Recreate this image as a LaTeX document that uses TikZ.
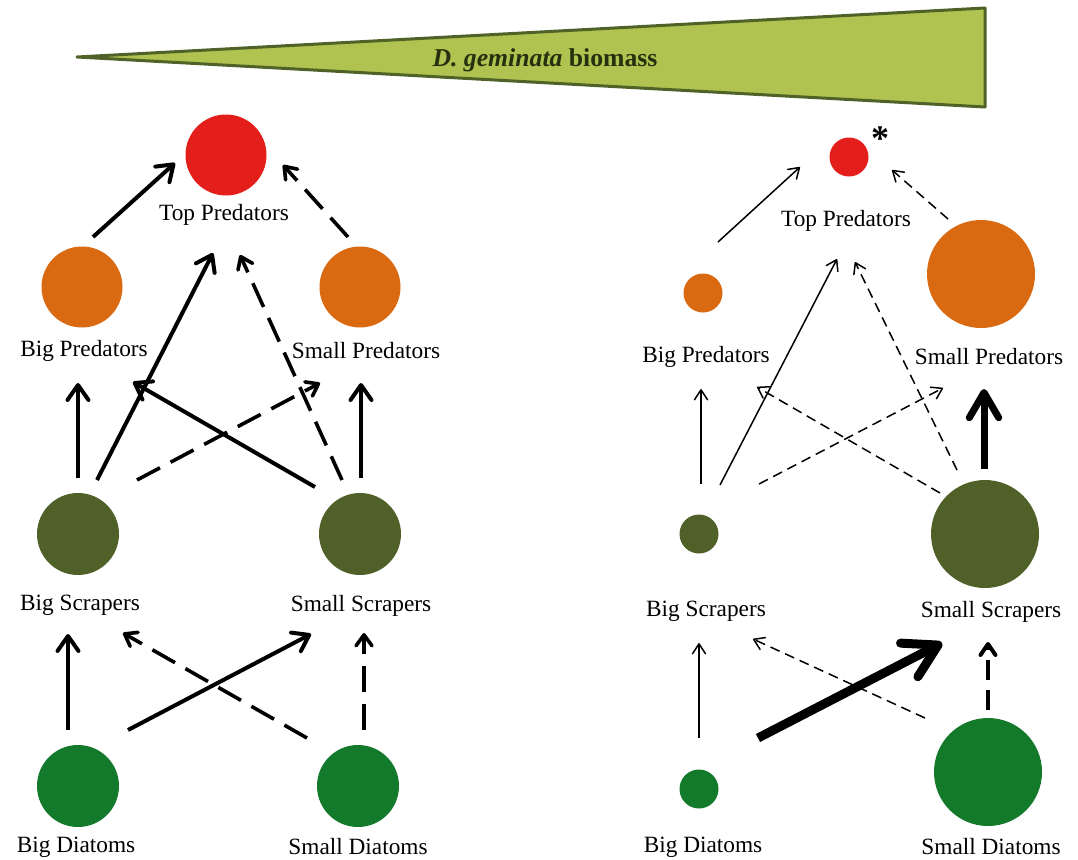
\documentclass[tikz,border=0pt]{standalone}
\usepackage{fontspec}
\setmainfont{Liberation Serif}
\usetikzlibrary{arrows.meta}
\definecolor{cred}{RGB}{228,30,26}
\definecolor{corange}{RGB}{217,106,18}
\definecolor{colive}{RGB}{79,97,40}
\definecolor{cgreen}{RGB}{18,122,42}
\definecolor{trifill}{RGB}{176,194,80}
\definecolor{triedge}{RGB}{79,98,40}
\definecolor{tritext}{RGB}{38,48,14}
\begin{document}
\begin{tikzpicture}[x=1pt,y=-1pt,
  dot/.style={circle,inner sep=0pt,minimum size=#1,draw=none},
  lab/.style={inner sep=0pt,font=\fontsize{23.3}{26}\selectfont},
  solidL/.style={line width=4pt,-{Straight Barb[length=15pt,width=21pt,round]}},
  dashL/.style={line width=3.6pt,dash pattern=on 26pt off 12pt,-{Straight Barb[length=11pt,width=16pt,round]}},
  thinR/.style={line width=1.5pt,-{Straight Barb[length=10pt,width=13pt,round]}},
  dashR/.style={thinR,dash pattern=on 10pt off 6pt},
  heavyR/.style={line width=#1,-{Straight Barb[length=3.6*#1,width=4.2*#1,round]}}
]
\useasboundingbox (0,0) rectangle (1078,859);

% biomass wedge
\path[fill=trifill,draw=triedge,line width=3pt,line join=round] (77,57) -- (985,8) -- (985,107) -- cycle;
\node[inner sep=0pt,text=tritext,font=\fontsize{25.7}{28}\selectfont\bfseries] (title) at (545,60) {\textit{D. geminata} biomass};

% ---------- left panel ----------
\node[dot=81pt,fill=cred]    (tpL) at (226,155) {};
\node[dot=81pt,fill=corange] (bpL) at (82,287) {};
\node[dot=81pt,fill=corange] (spL) at (360,287) {};
\node[dot=82pt,fill=colive]  (bsL) at (78,534) {};
\node[dot=82pt,fill=colive]  (ssL) at (360,534) {};
\node[dot=82pt,fill=cgreen]  (bdL) at (78,786) {};
\node[dot=82pt,fill=cgreen]  (sdL) at (358,786) {};

\node[lab] (tpLt) at (224,215) {Top Predators};
\node[lab] (bpLt) at (84,351) {Big Predators};
\node[lab] (spLt) at (366,351) {Small Predators};
\node[lab] (bsLt) at (80,605) {Big Scrapers};
\node[lab] (ssLt) at (361,606) {Small Scrapers};
\node[lab] (bdLt) at (76,847) {Big Diatoms};
\node[lab] (sdLt) at (358,847) {Small Diatoms};

\draw[solidL] ([shift={(11,-50)}]bpL.center) -- ([shift={(-51,8)}]tpL.center);
\draw[dashL]  ([shift={(-12,-50)}]spL.center) -- ([shift={(57,10)}]tpL.center);
\draw[solidL] ([shift={(19,-54)}]bsL.center) -- ([shift={(-13,98)}]tpL.center);
\draw[dashL]  ([shift={(-18,-54)}]ssL.center) -- ([shift={(14,100)}]tpL.center);
\draw[solidL] ([shift={(0,-56)}]bsL.center) -- ([shift={(-4,96)}]bpL.center);
\draw[solidL] ([shift={(1,-56)}]ssL.center) -- ([shift={(1,96)}]spL.center);
\draw[solidL] ([shift={(-45,-47)}]ssL.center) -- ([shift={(51,95)}]bpL.center);
\draw[dashL]  ([shift={(59,-54)}]bsL.center) -- ([shift={(-40,96)}]spL.center);
\draw[solidL] ([shift={(-10,-56)}]bdL.center) -- ([shift={(-10,100)}]bsL.center);
\draw[solidL] ([shift={(50,-56)}]bdL.center) -- ([shift={(-49,100)}]ssL.center);
\draw[dashL]  ([shift={(-51,-48)}]sdL.center) -- ([shift={(45,99)}]bsL.center);
\draw[dashL]  ([shift={(6,-56)}]sdL.center) -- ([shift={(4,99)}]ssL.center);

% ---------- right panel ----------
\node[dot=39pt,fill=cred]     (tpR) at (849,157) {};
\node[dot=39pt,fill=corange]  (bpR) at (703,293) {};
\node[dot=108pt,fill=corange] (spR) at (981,274) {};
\node[dot=39pt,fill=colive]   (bsR) at (699,534) {};
\node[dot=108pt,fill=colive]  (ssR) at (985,534) {};
\node[dot=39pt,fill=cgreen]   (bdR) at (699,789) {};
\node[dot=108pt,fill=cgreen]  (sdR) at (988,772) {};
\node[inner sep=0pt,font=\fontsize{36}{36}\selectfont\bfseries] (ast) at (880,139) {*};

\node[lab] (tpRt) at (846,221) {Top Predators};
\node[lab] (bpRt) at (706,357) {Big Predators};
\node[lab] (spRt) at (989,357) {Small Predators};
\node[lab] (bsRt) at (706,611) {Big Scrapers};
\node[lab] (ssRt) at (991,612) {Small Scrapers};
\node[lab] (bdRt) at (703,847) {Big Diatoms};
\node[lab] (sdRt) at (991,847) {Small Diatoms};

\draw[thinR] ([shift={(15,-51)}]bpR.center) -- ([shift={(-49,10)}]tpR.center);
\draw[dashR] ([shift={(-33,-55)}]spR.center) -- ([shift={(43,13)}]tpR.center);
\draw[thinR] ([shift={(21,-49)}]bsR.center) -- ([shift={(-12,102)}]tpR.center);
\draw[dashR] ([shift={(-28,-64)}]ssR.center) -- ([shift={(6,105)}]tpR.center);
\draw[thinR] ([shift={(2,-50)}]bsR.center) -- ([shift={(-2,96)}]bpR.center);
\draw[dashR] ([shift={(-45,-41)}]ssR.center) -- ([shift={(54,94)}]bpR.center);
\draw[dashR] ([shift={(60,-50)}]bsR.center) -- ([shift={(-38,114)}]spR.center);
\draw[heavyR=7pt] ([shift={(-1,-65)}]ssR.center) -- ([shift={(3,115)}]spR.center);
\draw[thinR] ([shift={(0,-51)}]bdR.center) -- ([shift={(0,109)}]bsR.center);
\draw[heavyR=9pt] ([shift={(59,-51)}]bdR.center) -- ([shift={(-43,109)}]ssR.center);
\draw[dashR] ([shift={(-63,-54)}]sdR.center) -- ([shift={(54,105)}]bsR.center);
\draw[line width=4pt,dash pattern=on 20pt off 10pt,-{Straight Barb[length=11pt,width=15pt,round]}] ([shift={(0,-62)}]sdR.center) -- ([shift={(3,108)}]ssR.center);
\end{tikzpicture}
\end{document}
